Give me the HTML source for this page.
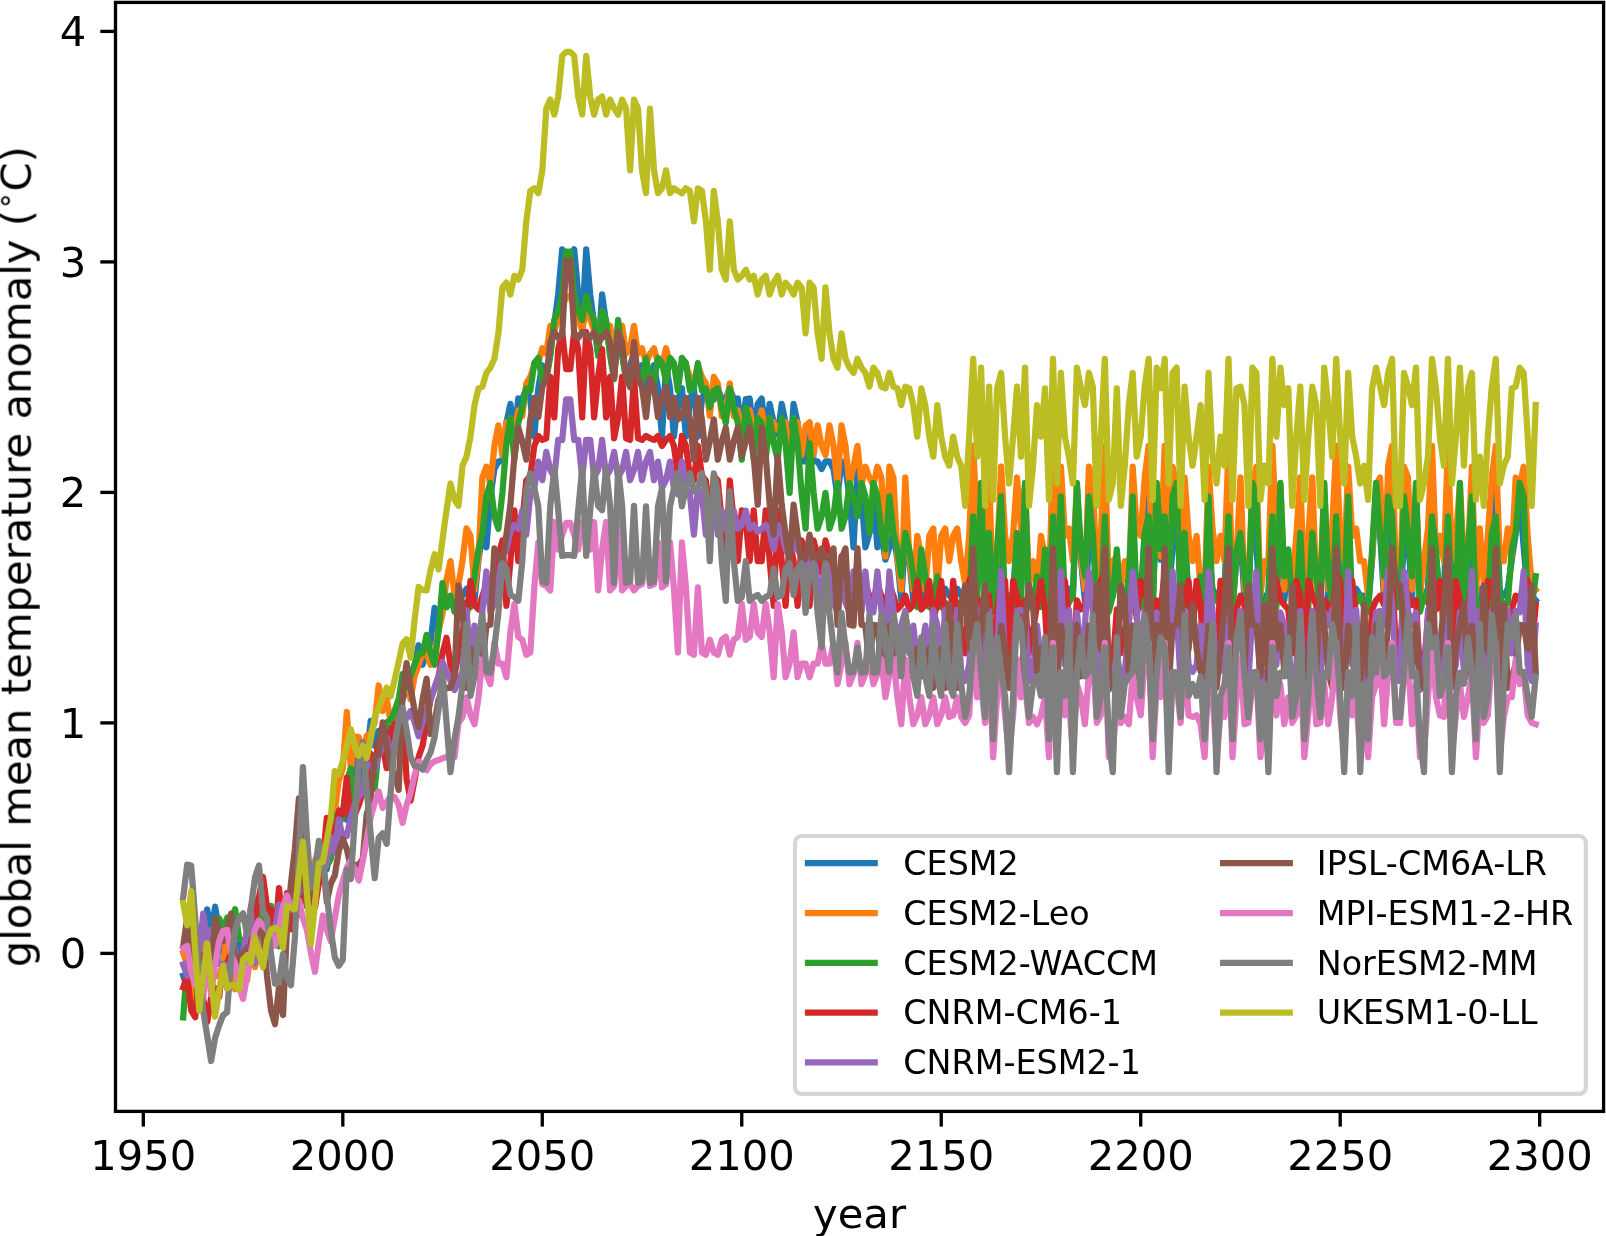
<!DOCTYPE html>
<html lang="en"><head><meta charset="utf-8"><title>global mean temperature anomaly</title>
<style>html,body{margin:0;padding:0;background:#fff}svg{display:block}text{font-family:"DejaVu Sans","Liberation Sans",sans-serif;fill:#000}</style></head><body>
<svg width="1606" height="1236" viewBox="0 0 1606 1236">
<rect width="1606" height="1236" fill="#fff"/>
<defs><clipPath id="ax"><rect x="115.5" y="2.4" width="1488.10" height="1109.00"/></clipPath></defs>
<g clip-path="url(#ax)" fill="none" stroke-width="6.25" stroke-linejoin="round" stroke-linecap="square">
<polyline stroke="#1f77b4" points="183.2,975.8 187.2,987.4 191.2,984.4 195.2,964.3 199.2,944.6 203.2,952.8 207.2,909.3 211.1,934.4 215.1,906.7 219.1,929.8 223.1,952.8 227.1,988.3 231.1,962.6 235.1,965.9 239.1,943.7 243.1,964.3 247.1,960.2 251.0,964.7 255.0,942.9 259.0,927.3 263.0,929.8 267.0,911.3 271.0,915.2 275.0,921.7 279.0,915.2 283.0,929.8 286.9,922.5 290.9,926.4 294.9,906.4 298.9,884.3 302.9,883.7 306.9,885.5 310.9,885.5 314.9,883.5 318.9,876.1 322.9,860.6 326.8,869.4 330.8,838.4 334.8,806.2 338.8,811.8 342.8,814.6 346.8,819.7 350.8,808.2 354.8,759.6 358.8,776.9 362.8,768.5 366.7,758.5 370.7,720.8 374.7,745.8 378.7,730.9 382.7,733.9 386.7,722.4 390.7,733.9 394.7,722.4 398.7,710.9 402.6,699.4 406.6,687.8 410.6,676.3 414.6,664.8 418.6,645.2 422.6,664.8 426.6,653.3 430.6,641.8 434.6,607.9 438.6,630.2 442.5,607.2 446.5,607.2 450.5,595.7 454.5,607.2 458.5,595.7 462.5,595.7 466.5,588.8 470.5,595.7 474.5,600.3 478.5,559.7 482.4,533.5 486.4,547.3 490.4,496.6 494.4,469.0 498.4,461.4 502.4,461.4 506.4,422.9 510.4,403.8 514.4,434.4 518.3,398.5 522.3,399.1 526.3,388.3 530.3,399.8 534.3,436.7 538.3,388.3 542.3,365.3 546.3,376.8 550.3,353.8 554.3,323.6 558.2,294.3 562.2,249.4 566.2,254.7 570.2,254.7 574.2,249.4 578.2,294.3 582.2,323.6 586.2,249.4 590.2,294.3 594.1,323.6 598.1,353.8 602.1,294.3 606.1,323.6 610.1,353.8 614.1,376.8 618.1,323.6 622.1,353.8 626.1,376.8 630.1,365.3 634.0,353.8 638.0,376.8 642.0,365.3 646.0,388.3 650.0,376.8 654.0,365.3 658.0,388.3 662.0,436.7 666.0,365.3 670.0,388.3 673.9,436.7 677.9,399.8 681.9,388.3 685.9,436.7 689.9,399.8 693.9,388.3 697.9,436.7 701.9,399.8 705.9,388.3 709.8,399.1 713.8,399.8 717.8,388.3 721.8,399.1 725.8,398.5 729.8,388.3 733.8,399.1 737.8,398.5 741.8,434.4 745.8,399.1 749.7,398.5 753.7,434.4 757.7,403.8 761.7,398.5 765.7,434.4 769.7,403.8 773.7,422.9 777.7,434.4 781.7,403.8 785.6,422.9 789.6,461.4 793.6,403.8 797.6,422.9 801.6,461.4 805.6,461.4 809.6,422.9 813.6,461.4 817.6,461.4 821.6,469.0 825.5,461.4 829.5,461.4 833.5,469.0 837.5,496.6 841.5,461.4 845.5,469.0 849.5,496.6 853.5,547.3 857.5,469.0 861.5,496.6 865.4,547.3 869.4,533.5 873.4,496.6 877.4,547.3 881.4,533.5 885.4,559.7 889.4,547.3 893.4,533.5 897.4,559.7 901.3,600.3 905.3,533.5 909.3,559.7 913.3,600.3 917.3,595.7 921.3,559.7 925.3,600.3 929.3,595.7 933.3,588.8 937.3,600.3 941.2,595.7 945.2,588.8 949.2,595.7 953.2,595.7 957.2,588.8 961.2,595.7 965.2,595.7 969.2,595.7 973.2,469.0 977.2,588.8 981.1,496.6 985.1,595.7 989.1,533.5 993.1,607.2 997.1,559.7 1001.1,547.3 1005.1,595.7 1009.1,595.7 1013.1,595.7 1017.0,533.5 1021.0,588.8 1025.0,496.6 1029.0,595.7 1033.0,595.7 1037.0,600.3 1041.0,595.7 1045.0,559.7 1049.0,607.2 1053.0,469.0 1056.9,595.7 1060.9,547.3 1064.9,595.7 1068.9,588.8 1072.9,595.7 1076.9,496.6 1080.9,559.7 1084.9,600.3 1088.9,547.3 1092.8,533.5 1096.8,595.7 1100.8,595.7 1104.8,469.0 1108.8,607.2 1112.8,595.7 1116.8,559.7 1120.8,595.7 1124.8,595.7 1128.8,600.3 1132.7,547.3 1136.7,588.8 1140.7,595.7 1144.7,533.5 1148.7,469.0 1152.7,607.2 1156.7,496.6 1160.7,559.7 1164.7,469.0 1168.7,595.7 1172.6,547.3 1176.6,496.6 1180.6,595.7 1184.6,533.5 1188.6,595.7 1192.6,595.7 1196.6,595.7 1200.6,600.3 1204.6,607.2 1208.5,547.3 1212.5,588.8 1216.5,595.7 1220.5,595.7 1224.5,595.7 1228.5,469.0 1232.5,607.2 1236.5,559.7 1240.5,533.5 1244.5,600.3 1248.4,595.7 1252.4,496.6 1256.4,547.3 1260.4,607.2 1264.4,595.7 1268.4,595.7 1272.4,469.0 1276.4,595.7 1280.4,496.6 1284.3,600.3 1288.3,559.7 1292.3,595.7 1296.3,595.7 1300.3,533.5 1304.3,607.2 1308.3,595.7 1312.3,533.5 1316.3,600.3 1320.3,595.7 1324.2,496.6 1328.2,600.3 1332.2,588.8 1336.2,469.0 1340.2,595.7 1344.2,595.7 1348.2,547.3 1352.2,595.7 1356.2,588.8 1360.2,595.7 1364.1,595.7 1368.1,607.2 1372.1,559.7 1376.1,496.6 1380.1,533.5 1384.1,600.3 1388.1,547.3 1392.1,469.0 1396.1,595.7 1400.0,595.7 1404.0,547.3 1408.0,533.5 1412.0,600.3 1416.0,496.6 1420.0,607.2 1424.0,595.7 1428.0,588.8 1432.0,469.0 1436.0,559.7 1439.9,595.7 1443.9,595.7 1447.9,469.0 1451.9,595.7 1455.9,595.7 1459.9,496.6 1463.9,595.7 1467.9,559.7 1471.9,547.3 1475.9,607.2 1479.8,588.8 1483.8,595.7 1487.8,595.7 1491.8,533.5 1495.8,469.0 1499.8,595.7 1503.8,595.7 1507.8,588.8 1511.8,559.7 1515.7,533.5 1519.7,496.6 1523.7,547.3 1527.7,595.7 1531.7,595.7 1535.7,600.3"/>
<polyline stroke="#ff7f0e" points="183.2,952.8 187.2,964.3 191.2,1004.5 195.2,975.8 199.2,979.4 203.2,925.2 207.2,952.8 211.1,975.8 215.1,975.6 219.1,976.1 223.1,964.3 227.1,929.7 231.1,968.3 235.1,989.3 239.1,964.8 243.1,975.8 247.1,980.4 251.0,948.8 255.0,967.2 259.0,942.3 263.0,929.8 267.0,930.0 271.0,921.0 275.0,938.8 279.0,926.0 283.0,918.2 286.9,921.6 290.9,923.6 294.9,920.4 298.9,893.1 302.9,883.7 306.9,840.8 310.9,909.1 314.9,861.1 318.9,850.1 322.9,849.1 326.8,831.8 330.8,830.7 334.8,810.0 338.8,780.5 342.8,768.5 346.8,712.0 350.8,768.5 354.8,736.7 358.8,737.1 362.8,757.0 366.7,735.6 370.7,733.1 374.7,722.4 378.7,685.5 382.7,710.9 386.7,699.4 390.7,722.4 394.7,710.9 398.7,699.4 402.6,687.8 406.6,676.3 410.6,699.4 414.6,676.3 418.6,664.8 422.6,653.3 426.6,653.3 430.6,664.8 434.6,653.3 438.6,630.2 442.5,614.1 446.5,579.6 450.5,561.1 454.5,595.7 458.5,584.2 462.5,561.1 466.5,528.4 470.5,535.8 474.5,589.7 478.5,556.7 482.4,477.5 486.4,466.7 490.4,485.1 494.4,445.9 498.4,425.4 502.4,455.1 506.4,422.4 510.4,425.2 514.4,429.8 518.3,410.4 522.3,416.0 526.3,383.3 530.3,376.8 534.3,365.3 538.3,363.0 542.3,348.2 546.3,353.8 550.3,325.9 554.3,330.7 558.2,319.2 562.2,307.7 566.2,296.2 570.2,296.2 574.2,307.7 578.2,319.2 582.2,330.7 586.2,307.7 590.2,319.2 594.1,330.7 598.1,325.9 602.1,319.2 606.1,330.7 610.1,325.9 614.1,353.8 618.1,330.7 622.1,325.9 626.1,353.8 630.1,348.2 634.0,325.9 638.0,353.8 642.0,348.2 646.0,363.0 650.0,353.8 654.0,348.2 658.0,363.0 662.0,365.3 666.0,348.2 670.0,363.0 673.9,365.3 677.9,376.8 681.9,363.0 685.9,365.3 689.9,376.8 693.9,383.3 697.9,365.3 701.9,376.8 705.9,383.3 709.8,416.0 713.8,376.8 717.8,383.3 721.8,416.0 725.8,410.4 729.8,383.3 733.8,416.0 737.8,410.4 741.8,429.8 745.8,416.0 749.7,410.4 753.7,429.8 757.7,425.2 761.7,410.4 765.7,429.8 769.7,425.2 773.7,422.4 777.7,429.8 781.7,425.2 785.6,422.4 789.6,455.1 793.6,425.2 797.6,422.4 801.6,455.1 805.6,425.4 809.6,422.4 813.6,455.1 817.6,425.4 821.6,445.9 825.5,455.1 829.5,425.4 833.5,445.9 837.5,485.1 841.5,425.4 845.5,445.9 849.5,485.1 853.5,466.7 857.5,445.9 861.5,485.1 865.4,466.7 869.4,477.5 873.4,485.1 877.4,466.7 881.4,477.5 885.4,556.7 889.4,466.7 893.4,477.5 897.4,556.7 901.3,589.7 905.3,477.5 909.3,556.7 913.3,589.7 917.3,535.8 921.3,556.7 925.3,589.7 929.3,535.8 933.3,528.4 937.3,589.7 941.2,535.8 945.2,528.4 949.2,561.1 953.2,535.8 957.2,528.4 961.2,561.1 965.2,584.2 969.2,535.8 973.2,445.9 977.2,528.4 981.1,485.1 985.1,584.2 989.1,477.5 993.1,595.7 997.1,556.7 1001.1,466.7 1005.1,535.8 1009.1,561.1 1013.1,535.8 1017.0,477.5 1021.0,528.4 1025.0,485.1 1029.0,584.2 1033.0,561.1 1037.0,589.7 1041.0,535.8 1045.0,556.7 1049.0,595.7 1053.0,445.9 1056.9,561.1 1060.9,466.7 1064.9,535.8 1068.9,528.4 1072.9,561.1 1076.9,485.1 1080.9,556.7 1084.9,589.7 1088.9,466.7 1092.8,477.5 1096.8,584.2 1100.8,535.8 1104.8,445.9 1108.8,595.7 1112.8,561.1 1116.8,556.7 1120.8,584.2 1124.8,561.1 1128.8,589.7 1132.7,466.7 1136.7,528.4 1140.7,535.8 1144.7,477.5 1148.7,445.9 1152.7,595.7 1156.7,485.1 1160.7,556.7 1164.7,445.9 1168.7,561.1 1172.6,466.7 1176.6,485.1 1180.6,584.2 1184.6,477.5 1188.6,535.8 1192.6,561.1 1196.6,535.8 1200.6,589.7 1204.6,595.7 1208.5,466.7 1212.5,528.4 1216.5,561.1 1220.5,535.8 1224.5,561.1 1228.5,445.9 1232.5,595.7 1236.5,556.7 1240.5,477.5 1244.5,589.7 1248.4,584.2 1252.4,485.1 1256.4,466.7 1260.4,595.7 1264.4,561.1 1268.4,561.1 1272.4,445.9 1276.4,535.8 1280.4,485.1 1284.3,589.7 1288.3,556.7 1292.3,584.2 1296.3,535.8 1300.3,477.5 1304.3,595.7 1308.3,535.8 1312.3,477.5 1316.3,589.7 1320.3,584.2 1324.2,485.1 1328.2,589.7 1332.2,528.4 1336.2,445.9 1340.2,535.8 1344.2,561.1 1348.2,466.7 1352.2,535.8 1356.2,528.4 1360.2,561.1 1364.1,561.1 1368.1,595.7 1372.1,556.7 1376.1,485.1 1380.1,477.5 1384.1,589.7 1388.1,466.7 1392.1,445.9 1396.1,584.2 1400.0,584.2 1404.0,466.7 1408.0,477.5 1412.0,589.7 1416.0,485.1 1420.0,595.7 1424.0,561.1 1428.0,528.4 1432.0,445.9 1436.0,556.7 1439.9,535.8 1443.9,561.1 1447.9,445.9 1451.9,561.1 1455.9,535.8 1459.9,485.1 1463.9,561.1 1467.9,556.7 1471.9,466.7 1475.9,595.7 1479.8,528.4 1483.8,584.2 1487.8,535.8 1491.8,477.5 1495.8,445.9 1499.8,561.1 1503.8,561.1 1507.8,528.4 1511.8,556.7 1515.7,477.5 1519.7,485.1 1523.7,466.7 1527.7,535.8 1531.7,584.2 1535.7,589.7"/>
<polyline stroke="#2ca02c" points="183.2,1017.3 187.2,964.3 191.2,975.8 195.2,952.8 199.2,964.3 203.2,975.8 207.2,975.8 211.1,966.8 215.1,938.1 219.1,918.2 223.1,929.8 227.1,917.8 231.1,920.2 235.1,909.1 239.1,938.2 243.1,941.3 247.1,941.4 251.0,948.9 255.0,899.5 259.0,906.7 263.0,929.8 267.0,933.1 271.0,905.8 275.0,925.9 279.0,946.3 283.0,929.8 286.9,910.5 290.9,913.9 294.9,914.5 298.9,896.6 302.9,883.7 306.9,847.2 310.9,894.5 314.9,880.0 318.9,878.2 322.9,860.6 326.8,866.3 330.8,858.7 334.8,814.9 338.8,825.9 342.8,814.6 346.8,781.1 350.8,768.5 354.8,800.4 358.8,785.8 362.8,780.0 366.7,784.9 370.7,761.1 374.7,788.6 378.7,747.5 382.7,733.9 386.7,722.4 390.7,720.1 394.7,710.9 398.7,699.4 402.6,674.0 406.6,687.8 410.6,676.3 414.6,664.8 418.6,653.3 422.6,653.3 426.6,634.8 430.6,653.3 434.6,664.8 438.6,630.2 442.5,583.2 446.5,607.2 450.5,595.9 454.5,611.8 458.5,607.2 462.5,607.2 466.5,602.6 470.5,607.2 474.5,576.3 478.5,549.4 482.4,533.0 486.4,496.4 490.4,482.8 494.4,516.4 498.4,528.7 502.4,492.8 506.4,443.4 510.4,417.9 514.4,459.7 518.3,422.9 522.3,407.4 526.3,388.3 530.3,390.6 534.3,363.0 538.3,357.9 542.3,381.4 546.3,379.1 550.3,355.8 554.3,319.9 558.2,310.9 562.2,295.9 566.2,251.7 570.2,251.7 574.2,295.9 578.2,310.9 582.2,319.9 586.2,295.9 590.2,310.9 594.1,319.9 598.1,355.8 602.1,310.9 606.1,319.9 610.1,355.8 614.1,379.1 618.1,319.9 622.1,355.8 626.1,379.1 630.1,381.4 634.0,355.8 638.0,379.1 642.0,381.4 646.0,357.9 650.0,379.1 654.0,381.4 658.0,357.9 662.0,363.0 666.0,381.4 670.0,357.9 673.9,363.0 677.9,390.6 681.9,357.9 685.9,363.0 689.9,390.6 693.9,388.3 697.9,363.0 701.9,390.6 705.9,388.3 709.8,407.4 713.8,390.6 717.8,388.3 721.8,407.4 725.8,422.9 729.8,388.3 733.8,407.4 737.8,422.9 741.8,459.7 745.8,407.4 749.7,422.9 753.7,459.7 757.7,417.9 761.7,422.9 765.7,459.7 769.7,417.9 773.7,443.4 777.7,459.7 781.7,417.9 785.6,443.4 789.6,492.8 793.6,417.9 797.6,443.4 801.6,492.8 805.6,528.7 809.6,443.4 813.6,492.8 817.6,528.7 821.6,516.4 825.5,492.8 829.5,528.7 833.5,516.4 837.5,482.8 841.5,528.7 845.5,516.4 849.5,482.8 853.5,496.4 857.5,516.4 861.5,482.8 865.4,496.4 869.4,533.0 873.4,482.8 877.4,496.4 881.4,533.0 885.4,549.4 889.4,496.4 893.4,533.0 897.4,549.4 901.3,576.3 905.3,533.0 909.3,549.4 913.3,576.3 917.3,607.2 921.3,549.4 925.3,576.3 929.3,607.2 933.3,602.6 937.3,576.3 941.2,607.2 945.2,602.6 949.2,607.2 953.2,607.2 957.2,602.6 961.2,607.2 965.2,607.2 969.2,607.2 973.2,516.4 977.2,602.6 981.1,482.8 985.1,607.2 989.1,533.0 993.1,611.8 997.1,549.4 1001.1,496.4 1005.1,607.2 1009.1,595.9 1013.1,607.2 1017.0,533.0 1021.0,602.6 1025.0,482.8 1029.0,607.2 1033.0,607.2 1037.0,576.3 1041.0,607.2 1045.0,549.4 1049.0,611.8 1053.0,516.4 1056.9,595.9 1060.9,496.4 1064.9,607.2 1068.9,602.6 1072.9,595.9 1076.9,482.8 1080.9,549.4 1084.9,576.3 1088.9,496.4 1092.8,533.0 1096.8,607.2 1100.8,607.2 1104.8,516.4 1108.8,611.8 1112.8,595.9 1116.8,549.4 1120.8,607.2 1124.8,607.2 1128.8,576.3 1132.7,496.4 1136.7,602.6 1140.7,607.2 1144.7,533.0 1148.7,516.4 1152.7,611.8 1156.7,482.8 1160.7,549.4 1164.7,516.4 1168.7,595.9 1172.6,496.4 1176.6,482.8 1180.6,607.2 1184.6,533.0 1188.6,607.2 1192.6,607.2 1196.6,607.2 1200.6,576.3 1204.6,611.8 1208.5,496.4 1212.5,602.6 1216.5,595.9 1220.5,607.2 1224.5,607.2 1228.5,516.4 1232.5,611.8 1236.5,549.4 1240.5,533.0 1244.5,576.3 1248.4,607.2 1252.4,482.8 1256.4,496.4 1260.4,611.8 1264.4,607.2 1268.4,595.9 1272.4,516.4 1276.4,607.2 1280.4,482.8 1284.3,576.3 1288.3,549.4 1292.3,607.2 1296.3,607.2 1300.3,533.0 1304.3,611.8 1308.3,607.2 1312.3,533.0 1316.3,576.3 1320.3,607.2 1324.2,482.8 1328.2,576.3 1332.2,602.6 1336.2,516.4 1340.2,607.2 1344.2,595.9 1348.2,496.4 1352.2,607.2 1356.2,602.6 1360.2,595.9 1364.1,607.2 1368.1,611.8 1372.1,549.4 1376.1,482.8 1380.1,533.0 1384.1,576.3 1388.1,496.4 1392.1,516.4 1396.1,607.2 1400.0,607.2 1404.0,496.4 1408.0,533.0 1412.0,576.3 1416.0,482.8 1420.0,611.8 1424.0,595.9 1428.0,602.6 1432.0,516.4 1436.0,549.4 1439.9,607.2 1443.9,607.2 1447.9,516.4 1451.9,595.9 1455.9,607.2 1459.9,482.8 1463.9,607.2 1467.9,549.4 1471.9,496.4 1475.9,611.8 1479.8,602.6 1483.8,607.2 1487.8,607.2 1491.8,533.0 1495.8,516.4 1499.8,595.9 1503.8,607.2 1507.8,602.6 1511.8,549.4 1515.7,533.0 1519.7,482.8 1523.7,496.4 1527.7,607.2 1531.7,607.2 1535.7,576.3"/>
<polyline stroke="#d62728" points="183.2,987.4 187.2,975.8 191.2,1010.4 195.2,1017.3 199.2,975.8 203.2,998.9 207.2,1021.9 211.1,997.9 215.1,987.8 219.1,997.2 223.1,964.3 227.1,963.4 231.1,952.9 235.1,952.0 239.1,973.8 243.1,952.8 247.1,939.5 251.0,906.7 255.0,918.2 259.0,896.8 263.0,876.8 267.0,906.7 271.0,909.9 275.0,937.7 279.0,888.1 283.0,929.8 286.9,893.2 290.9,929.3 294.9,875.7 298.9,914.8 302.9,883.7 306.9,870.3 310.9,873.7 314.9,907.9 318.9,883.1 322.9,860.6 326.8,817.8 330.8,827.5 334.8,837.4 338.8,810.9 342.8,814.6 346.8,777.7 350.8,826.1 354.8,814.7 358.8,805.1 362.8,791.5 366.7,787.2 370.7,753.7 374.7,767.0 378.7,741.2 382.7,745.4 386.7,768.2 390.7,731.0 394.7,724.1 398.7,730.4 402.6,710.9 406.6,779.3 410.6,800.7 414.6,780.0 418.6,757.0 422.6,745.4 426.6,722.4 430.6,699.4 434.6,687.8 438.6,676.3 442.5,653.3 446.5,637.8 450.5,664.8 454.5,675.2 458.5,653.3 462.5,630.2 466.5,618.7 470.5,580.9 474.5,604.9 478.5,609.5 482.4,595.7 486.4,584.2 490.4,600.3 494.4,572.6 498.4,556.5 502.4,540.4 506.4,605.8 510.4,561.1 514.4,510.4 518.3,561.1 522.3,522.0 526.3,480.5 530.3,475.9 534.3,445.9 538.3,436.0 542.3,439.9 546.3,438.3 550.3,376.8 554.3,417.4 558.2,349.2 562.2,331.9 566.2,369.2 570.2,369.2 574.2,331.9 578.2,349.2 582.2,417.4 586.2,331.9 590.2,349.2 594.1,417.4 598.1,376.8 602.1,349.2 606.1,417.4 610.1,376.8 614.1,438.3 618.1,417.4 622.1,376.8 626.1,438.3 630.1,439.9 634.0,376.8 638.0,438.3 642.0,439.9 646.0,436.0 650.0,438.3 654.0,439.9 658.0,436.0 662.0,445.9 666.0,439.9 670.0,436.0 673.9,445.9 677.9,475.9 681.9,436.0 685.9,445.9 689.9,475.9 693.9,480.5 697.9,445.9 701.9,475.9 705.9,480.5 709.8,522.0 713.8,475.9 717.8,480.5 721.8,522.0 725.8,561.1 729.8,480.5 733.8,522.0 737.8,561.1 741.8,510.4 745.8,522.0 749.7,561.1 753.7,510.4 757.7,561.1 761.7,561.1 765.7,510.4 769.7,561.1 773.7,605.8 777.7,510.4 781.7,561.1 785.6,605.8 789.6,540.4 793.6,561.1 797.6,605.8 801.6,540.4 805.6,556.5 809.6,605.8 813.6,540.4 817.6,556.5 821.6,572.6 825.5,540.4 829.5,556.5 833.5,572.6 837.5,600.3 841.5,556.5 845.5,572.6 849.5,600.3 853.5,584.2 857.5,572.6 861.5,600.3 865.4,584.2 869.4,595.7 873.4,600.3 877.4,584.2 881.4,595.7 885.4,609.5 889.4,584.2 893.4,595.7 897.4,609.5 901.3,604.9 905.3,595.7 909.3,609.5 913.3,604.9 917.3,580.9 921.3,609.5 925.3,604.9 929.3,580.9 933.3,618.7 937.3,604.9 941.2,580.9 945.2,618.7 949.2,630.2 953.2,580.9 957.2,618.7 961.2,630.2 965.2,653.3 969.2,580.9 973.2,572.6 977.2,618.7 981.1,600.3 985.1,653.3 989.1,595.7 993.1,675.2 997.1,609.5 1001.1,584.2 1005.1,580.9 1009.1,664.8 1013.1,580.9 1017.0,595.7 1021.0,618.7 1025.0,600.3 1029.0,653.3 1033.0,630.2 1037.0,604.9 1041.0,580.9 1045.0,609.5 1049.0,675.2 1053.0,572.6 1056.9,664.8 1060.9,584.2 1064.9,580.9 1068.9,618.7 1072.9,664.8 1076.9,600.3 1080.9,609.5 1084.9,604.9 1088.9,584.2 1092.8,595.7 1096.8,653.3 1100.8,580.9 1104.8,572.6 1108.8,675.2 1112.8,664.8 1116.8,609.5 1120.8,653.3 1124.8,630.2 1128.8,604.9 1132.7,584.2 1136.7,618.7 1140.7,580.9 1144.7,595.7 1148.7,572.6 1152.7,675.2 1156.7,600.3 1160.7,609.5 1164.7,572.6 1168.7,664.8 1172.6,584.2 1176.6,600.3 1180.6,653.3 1184.6,595.7 1188.6,580.9 1192.6,630.2 1196.6,580.9 1200.6,604.9 1204.6,675.2 1208.5,584.2 1212.5,618.7 1216.5,664.8 1220.5,580.9 1224.5,630.2 1228.5,572.6 1232.5,675.2 1236.5,609.5 1240.5,595.7 1244.5,604.9 1248.4,653.3 1252.4,600.3 1256.4,584.2 1260.4,675.2 1264.4,630.2 1268.4,664.8 1272.4,572.6 1276.4,580.9 1280.4,600.3 1284.3,604.9 1288.3,609.5 1292.3,653.3 1296.3,580.9 1300.3,595.7 1304.3,675.2 1308.3,580.9 1312.3,595.7 1316.3,604.9 1320.3,653.3 1324.2,600.3 1328.2,604.9 1332.2,618.7 1336.2,572.6 1340.2,580.9 1344.2,664.8 1348.2,584.2 1352.2,580.9 1356.2,618.7 1360.2,664.8 1364.1,630.2 1368.1,675.2 1372.1,609.5 1376.1,600.3 1380.1,595.7 1384.1,604.9 1388.1,584.2 1392.1,572.6 1396.1,653.3 1400.0,653.3 1404.0,584.2 1408.0,595.7 1412.0,604.9 1416.0,600.3 1420.0,675.2 1424.0,664.8 1428.0,618.7 1432.0,572.6 1436.0,609.5 1439.9,580.9 1443.9,630.2 1447.9,572.6 1451.9,664.8 1455.9,580.9 1459.9,600.3 1463.9,630.2 1467.9,609.5 1471.9,584.2 1475.9,675.2 1479.8,618.7 1483.8,653.3 1487.8,580.9 1491.8,595.7 1495.8,572.6 1499.8,664.8 1503.8,630.2 1507.8,618.7 1511.8,609.5 1515.7,595.7 1519.7,600.3 1523.7,584.2 1527.7,580.9 1531.7,653.3 1535.7,604.9"/>
<polyline stroke="#9467bd" points="183.2,964.3 187.2,975.8 191.2,938.9 195.2,980.4 199.2,952.8 203.2,913.6 207.2,941.3 211.1,929.8 215.1,952.8 219.1,963.9 223.1,964.3 227.1,965.3 231.1,965.5 235.1,947.7 239.1,982.0 243.1,952.8 247.1,929.6 251.0,913.6 255.0,963.3 259.0,924.0 263.0,929.8 267.0,941.3 271.0,939.2 275.0,929.7 279.0,904.5 283.0,918.2 286.9,910.4 290.9,910.3 294.9,897.5 298.9,892.3 302.9,883.7 306.9,891.6 310.9,879.2 314.9,878.4 318.9,875.3 322.9,872.2 326.8,862.1 330.8,836.8 334.8,852.8 338.8,819.3 342.8,837.6 346.8,836.1 350.8,817.5 354.8,804.2 358.8,796.4 362.8,791.5 366.7,763.9 370.7,765.1 374.7,769.3 378.7,756.3 382.7,745.4 386.7,737.3 390.7,757.4 394.7,742.7 398.7,736.3 402.6,722.4 406.6,718.4 410.6,710.9 414.6,722.4 418.6,736.2 422.6,722.4 426.6,710.9 430.6,699.4 434.6,687.8 438.6,676.3 442.5,661.8 446.5,671.7 450.5,680.9 454.5,690.1 458.5,680.9 462.5,671.7 466.5,610.0 470.5,664.8 474.5,625.6 478.5,653.3 482.4,610.9 486.4,571.5 490.4,612.3 494.4,602.6 498.4,579.6 502.4,556.5 506.4,549.6 510.4,531.7 514.4,524.9 518.3,528.7 522.3,510.7 526.3,534.7 530.3,494.3 534.3,487.9 538.3,461.6 542.3,480.2 546.3,451.9 550.3,469.9 554.3,477.3 558.2,439.9 562.2,439.9 566.2,399.4 570.2,399.4 574.2,439.9 578.2,439.9 582.2,477.3 586.2,439.9 590.2,439.9 594.1,477.3 598.1,469.9 602.1,439.9 606.1,477.3 610.1,469.9 614.1,451.9 618.1,477.3 622.1,469.9 626.1,451.9 630.1,480.2 634.0,469.9 638.0,451.9 642.0,480.2 646.0,461.6 650.0,451.9 654.0,480.2 658.0,461.6 662.0,487.9 666.0,480.2 670.0,461.6 673.9,487.9 677.9,494.3 681.9,461.6 685.9,487.9 689.9,494.3 693.9,534.7 697.9,487.9 701.9,494.3 705.9,534.7 709.8,510.7 713.8,494.3 717.8,534.7 721.8,510.7 725.8,528.7 729.8,534.7 733.8,510.7 737.8,528.7 741.8,524.9 745.8,510.7 749.7,528.7 753.7,524.9 757.7,531.7 761.7,528.7 765.7,524.9 769.7,531.7 773.7,549.6 777.7,524.9 781.7,531.7 785.6,549.6 789.6,556.5 793.6,531.7 797.6,549.6 801.6,556.5 805.6,579.6 809.6,549.6 813.6,556.5 817.6,579.6 821.6,602.6 825.5,556.5 829.5,579.6 833.5,602.6 837.5,612.3 841.5,579.6 845.5,602.6 849.5,612.3 853.5,571.5 857.5,602.6 861.5,612.3 865.4,571.5 869.4,610.9 873.4,612.3 877.4,571.5 881.4,610.9 885.4,653.3 889.4,571.5 893.4,610.9 897.4,653.3 901.3,625.6 905.3,610.9 909.3,653.3 913.3,625.6 917.3,664.8 921.3,653.3 925.3,625.6 929.3,664.8 933.3,610.0 937.3,625.6 941.2,664.8 945.2,610.0 949.2,671.7 953.2,664.8 957.2,610.0 961.2,671.7 965.2,680.9 969.2,664.8 973.2,602.6 977.2,610.0 981.1,612.3 985.1,680.9 989.1,610.9 993.1,690.1 997.1,653.3 1001.1,571.5 1005.1,664.8 1009.1,680.9 1013.1,664.8 1017.0,610.9 1021.0,610.0 1025.0,612.3 1029.0,680.9 1033.0,671.7 1037.0,625.6 1041.0,664.8 1045.0,653.3 1049.0,690.1 1053.0,602.6 1056.9,680.9 1060.9,571.5 1064.9,664.8 1068.9,610.0 1072.9,680.9 1076.9,612.3 1080.9,653.3 1084.9,625.6 1088.9,571.5 1092.8,610.9 1096.8,680.9 1100.8,664.8 1104.8,602.6 1108.8,690.1 1112.8,680.9 1116.8,653.3 1120.8,680.9 1124.8,671.7 1128.8,625.6 1132.7,571.5 1136.7,610.0 1140.7,664.8 1144.7,610.9 1148.7,602.6 1152.7,690.1 1156.7,612.3 1160.7,653.3 1164.7,602.6 1168.7,680.9 1172.6,571.5 1176.6,612.3 1180.6,680.9 1184.6,610.9 1188.6,664.8 1192.6,671.7 1196.6,664.8 1200.6,625.6 1204.6,690.1 1208.5,571.5 1212.5,610.0 1216.5,680.9 1220.5,664.8 1224.5,671.7 1228.5,602.6 1232.5,690.1 1236.5,653.3 1240.5,610.9 1244.5,625.6 1248.4,680.9 1252.4,612.3 1256.4,571.5 1260.4,690.1 1264.4,671.7 1268.4,680.9 1272.4,602.6 1276.4,664.8 1280.4,612.3 1284.3,625.6 1288.3,653.3 1292.3,680.9 1296.3,664.8 1300.3,610.9 1304.3,690.1 1308.3,664.8 1312.3,610.9 1316.3,625.6 1320.3,680.9 1324.2,612.3 1328.2,625.6 1332.2,610.0 1336.2,602.6 1340.2,664.8 1344.2,680.9 1348.2,571.5 1352.2,664.8 1356.2,610.0 1360.2,680.9 1364.1,671.7 1368.1,690.1 1372.1,653.3 1376.1,612.3 1380.1,610.9 1384.1,625.6 1388.1,571.5 1392.1,602.6 1396.1,680.9 1400.0,680.9 1404.0,571.5 1408.0,610.9 1412.0,625.6 1416.0,612.3 1420.0,690.1 1424.0,680.9 1428.0,610.0 1432.0,602.6 1436.0,653.3 1439.9,664.8 1443.9,671.7 1447.9,602.6 1451.9,680.9 1455.9,664.8 1459.9,612.3 1463.9,671.7 1467.9,653.3 1471.9,571.5 1475.9,690.1 1479.8,610.0 1483.8,680.9 1487.8,664.8 1491.8,610.9 1495.8,602.6 1499.8,680.9 1503.8,671.7 1507.8,610.0 1511.8,653.3 1515.7,610.9 1519.7,612.3 1523.7,571.5 1527.7,664.8 1531.7,680.9 1535.7,625.6"/>
<polyline stroke="#8c564b" points="183.2,945.9 187.2,918.2 191.2,964.3 195.2,975.8 199.2,1006.4 203.2,955.5 207.2,964.3 211.1,973.7 215.1,918.6 219.1,929.8 223.1,941.3 227.1,929.8 231.1,913.6 235.1,964.3 239.1,957.0 243.1,952.8 247.1,947.9 251.0,947.3 255.0,941.3 259.0,924.3 263.0,929.8 267.0,975.8 271.0,1010.4 275.0,1024.2 279.0,987.4 283.0,1015.0 286.9,929.8 290.9,883.7 294.9,849.1 298.9,798.4 302.9,872.2 306.9,906.7 310.9,883.3 314.9,883.7 318.9,870.6 322.9,860.6 326.8,901.6 330.8,883.7 334.8,875.3 338.8,850.8 342.8,839.2 346.8,849.1 350.8,867.7 354.8,864.8 358.8,864.8 362.8,858.6 366.7,814.6 370.7,797.6 374.7,757.0 378.7,754.0 382.7,722.4 386.7,745.4 390.7,768.5 394.7,773.7 398.7,789.9 402.6,694.2 406.6,663.2 410.6,687.8 414.6,710.9 418.6,727.0 422.6,699.4 426.6,678.6 430.6,733.9 434.6,722.4 438.6,699.4 442.5,692.4 446.5,687.8 450.5,687.8 454.5,676.3 458.5,585.3 462.5,604.7 466.5,687.8 470.5,648.7 474.5,671.7 478.5,676.3 482.4,664.8 486.4,625.6 490.4,624.8 494.4,548.4 498.4,558.8 502.4,561.8 506.4,534.6 510.4,504.7 514.4,456.1 518.3,427.7 522.3,441.3 526.3,459.7 530.3,419.4 534.3,397.8 538.3,417.1 542.3,387.2 546.3,378.2 550.3,342.2 554.3,331.9 558.2,337.9 562.2,334.9 566.2,260.7 570.2,260.7 574.2,334.9 578.2,337.9 582.2,331.9 586.2,334.9 590.2,337.9 594.1,331.9 598.1,342.2 602.1,337.9 606.1,331.9 610.1,342.2 614.1,378.2 618.1,331.9 622.1,342.2 626.1,378.2 630.1,387.2 634.0,342.2 638.0,378.2 642.0,387.2 646.0,417.1 650.0,378.2 654.0,387.2 658.0,417.1 662.0,397.8 666.0,387.2 670.0,417.1 673.9,397.8 677.9,419.4 681.9,417.1 685.9,397.8 689.9,419.4 693.9,459.7 697.9,397.8 701.9,419.4 705.9,459.7 709.8,441.3 713.8,419.4 717.8,459.7 721.8,441.3 725.8,427.7 729.8,459.7 733.8,441.3 737.8,427.7 741.8,456.1 745.8,441.3 749.7,427.7 753.7,456.1 757.7,504.7 761.7,427.7 765.7,456.1 769.7,504.7 773.7,534.6 777.7,456.1 781.7,504.7 785.6,534.6 789.6,561.8 793.6,504.7 797.6,534.6 801.6,561.8 805.6,558.8 809.6,534.6 813.6,561.8 817.6,558.8 821.6,548.4 825.5,561.8 829.5,558.8 833.5,548.4 837.5,624.8 841.5,558.8 845.5,548.4 849.5,624.8 853.5,625.6 857.5,548.4 861.5,624.8 865.4,625.6 869.4,664.8 873.4,624.8 877.4,625.6 881.4,664.8 885.4,676.3 889.4,625.6 893.4,664.8 897.4,676.3 901.3,671.7 905.3,664.8 909.3,676.3 913.3,671.7 917.3,648.7 921.3,676.3 925.3,671.7 929.3,648.7 933.3,687.8 937.3,671.7 941.2,648.7 945.2,687.8 949.2,604.7 953.2,648.7 957.2,687.8 961.2,604.7 965.2,585.3 969.2,648.7 973.2,548.4 977.2,687.8 981.1,624.8 985.1,585.3 989.1,664.8 993.1,676.3 997.1,676.3 1001.1,625.6 1005.1,648.7 1009.1,687.8 1013.1,648.7 1017.0,664.8 1021.0,687.8 1025.0,624.8 1029.0,585.3 1033.0,604.7 1037.0,671.7 1041.0,648.7 1045.0,676.3 1049.0,676.3 1053.0,548.4 1056.9,687.8 1060.9,625.6 1064.9,648.7 1068.9,687.8 1072.9,687.8 1076.9,624.8 1080.9,676.3 1084.9,671.7 1088.9,625.6 1092.8,664.8 1096.8,585.3 1100.8,648.7 1104.8,548.4 1108.8,676.3 1112.8,687.8 1116.8,676.3 1120.8,585.3 1124.8,604.7 1128.8,671.7 1132.7,625.6 1136.7,687.8 1140.7,648.7 1144.7,664.8 1148.7,548.4 1152.7,676.3 1156.7,624.8 1160.7,676.3 1164.7,548.4 1168.7,687.8 1172.6,625.6 1176.6,624.8 1180.6,585.3 1184.6,664.8 1188.6,648.7 1192.6,604.7 1196.6,648.7 1200.6,671.7 1204.6,676.3 1208.5,625.6 1212.5,687.8 1216.5,687.8 1220.5,648.7 1224.5,604.7 1228.5,548.4 1232.5,676.3 1236.5,676.3 1240.5,664.8 1244.5,671.7 1248.4,585.3 1252.4,624.8 1256.4,625.6 1260.4,676.3 1264.4,604.7 1268.4,687.8 1272.4,548.4 1276.4,648.7 1280.4,624.8 1284.3,671.7 1288.3,676.3 1292.3,585.3 1296.3,648.7 1300.3,664.8 1304.3,676.3 1308.3,648.7 1312.3,664.8 1316.3,671.7 1320.3,585.3 1324.2,624.8 1328.2,671.7 1332.2,687.8 1336.2,548.4 1340.2,648.7 1344.2,687.8 1348.2,625.6 1352.2,648.7 1356.2,687.8 1360.2,687.8 1364.1,604.7 1368.1,676.3 1372.1,676.3 1376.1,624.8 1380.1,664.8 1384.1,671.7 1388.1,625.6 1392.1,548.4 1396.1,585.3 1400.0,585.3 1404.0,625.6 1408.0,664.8 1412.0,671.7 1416.0,624.8 1420.0,676.3 1424.0,687.8 1428.0,687.8 1432.0,548.4 1436.0,676.3 1439.9,648.7 1443.9,604.7 1447.9,548.4 1451.9,687.8 1455.9,648.7 1459.9,624.8 1463.9,604.7 1467.9,676.3 1471.9,625.6 1475.9,676.3 1479.8,687.8 1483.8,585.3 1487.8,648.7 1491.8,664.8 1495.8,548.4 1499.8,687.8 1503.8,604.7 1507.8,687.8 1511.8,676.3 1515.7,664.8 1519.7,624.8 1523.7,625.6 1527.7,648.7 1531.7,585.3 1535.7,671.7"/>
<polyline stroke="#e377c2" points="183.2,948.2 187.2,945.9 191.2,971.2 195.2,985.1 199.2,975.8 203.2,998.9 207.2,952.8 211.1,994.3 215.1,964.3 219.1,941.3 223.1,930.7 227.1,929.8 231.1,952.8 235.1,964.3 239.1,987.4 243.1,998.9 247.1,975.8 251.0,952.8 255.0,929.8 259.0,920.5 263.0,925.2 267.0,929.8 271.0,934.4 275.0,945.9 279.0,929.8 283.0,906.7 286.9,895.4 290.9,906.7 294.9,911.3 298.9,900.5 302.9,918.2 306.9,929.8 310.9,952.8 314.9,971.9 318.9,941.3 322.9,915.5 326.8,929.8 330.8,941.3 334.8,918.2 338.8,895.2 342.8,881.4 346.8,867.6 350.8,860.6 354.8,869.9 358.8,880.5 362.8,860.6 366.7,839.9 370.7,816.9 374.7,803.0 378.7,791.5 382.7,807.9 386.7,801.9 390.7,795.9 394.7,797.3 398.7,804.9 402.6,822.9 406.6,804.9 410.6,792.9 414.6,774.9 418.6,761.6 422.6,764.3 426.6,770.3 430.6,764.3 434.6,761.3 438.6,760.0 442.5,758.3 446.5,757.0 450.5,754.0 454.5,757.2 458.5,722.9 462.5,716.9 466.5,697.3 470.5,715.3 474.5,724.2 478.5,697.1 482.4,659.3 486.4,674.0 490.4,684.2 494.4,642.9 498.4,663.7 502.4,663.7 506.4,677.2 510.4,632.3 514.4,603.8 518.3,636.8 522.3,639.8 526.3,654.7 530.3,652.5 534.3,587.4 538.3,542.5 542.3,584.2 546.3,585.9 550.3,590.4 554.3,522.0 558.2,549.6 562.2,535.0 566.2,522.9 570.2,522.9 574.2,535.0 578.2,549.6 582.2,522.0 586.2,535.0 590.2,549.6 594.1,522.0 598.1,590.4 602.1,549.6 606.1,522.0 610.1,590.4 614.1,585.9 618.1,522.0 622.1,590.4 626.1,585.9 630.1,584.2 634.0,590.4 638.0,585.9 642.0,584.2 646.0,542.5 650.0,585.9 654.0,584.2 658.0,542.5 662.0,587.4 666.0,584.2 670.0,542.5 673.9,587.4 677.9,652.5 681.9,542.5 685.9,587.4 689.9,652.5 693.9,654.7 697.9,587.4 701.9,652.5 705.9,654.7 709.8,639.8 713.8,652.5 717.8,654.7 721.8,639.8 725.8,636.8 729.8,654.7 733.8,639.8 737.8,636.8 741.8,603.8 745.8,639.8 749.7,636.8 753.7,603.8 757.7,632.3 761.7,636.8 765.7,603.8 769.7,632.3 773.7,677.2 777.7,603.8 781.7,632.3 785.6,677.2 789.6,663.7 793.6,632.3 797.6,677.2 801.6,663.7 805.6,663.7 809.6,677.2 813.6,663.7 817.6,663.7 821.6,642.9 825.5,663.7 829.5,663.7 833.5,642.9 837.5,684.2 841.5,663.7 845.5,642.9 849.5,684.2 853.5,674.0 857.5,642.9 861.5,684.2 865.4,674.0 869.4,659.3 873.4,684.2 877.4,674.0 881.4,659.3 885.4,697.1 889.4,674.0 893.4,659.3 897.4,697.1 901.3,724.2 905.3,659.3 909.3,697.1 913.3,724.2 917.3,715.3 921.3,697.1 925.3,724.2 929.3,715.3 933.3,697.3 937.3,724.2 941.2,715.3 945.2,697.3 949.2,716.9 953.2,715.3 957.2,697.3 961.2,716.9 965.2,722.9 969.2,715.3 973.2,642.9 977.2,697.3 981.1,684.2 985.1,722.9 989.1,659.3 993.1,757.2 997.1,697.1 1001.1,674.0 1005.1,715.3 1009.1,754.0 1013.1,715.3 1017.0,659.3 1021.0,697.3 1025.0,684.2 1029.0,722.9 1033.0,716.9 1037.0,724.2 1041.0,715.3 1045.0,697.1 1049.0,757.2 1053.0,642.9 1056.9,754.0 1060.9,674.0 1064.9,715.3 1068.9,697.3 1072.9,754.0 1076.9,684.2 1080.9,697.1 1084.9,724.2 1088.9,674.0 1092.8,659.3 1096.8,722.9 1100.8,715.3 1104.8,642.9 1108.8,757.2 1112.8,754.0 1116.8,697.1 1120.8,722.9 1124.8,716.9 1128.8,724.2 1132.7,674.0 1136.7,697.3 1140.7,715.3 1144.7,659.3 1148.7,642.9 1152.7,757.2 1156.7,684.2 1160.7,697.1 1164.7,642.9 1168.7,754.0 1172.6,674.0 1176.6,684.2 1180.6,722.9 1184.6,659.3 1188.6,715.3 1192.6,716.9 1196.6,715.3 1200.6,724.2 1204.6,757.2 1208.5,674.0 1212.5,697.3 1216.5,754.0 1220.5,715.3 1224.5,716.9 1228.5,642.9 1232.5,757.2 1236.5,697.1 1240.5,659.3 1244.5,724.2 1248.4,722.9 1252.4,684.2 1256.4,674.0 1260.4,757.2 1264.4,716.9 1268.4,754.0 1272.4,642.9 1276.4,715.3 1280.4,684.2 1284.3,724.2 1288.3,697.1 1292.3,722.9 1296.3,715.3 1300.3,659.3 1304.3,757.2 1308.3,715.3 1312.3,659.3 1316.3,724.2 1320.3,722.9 1324.2,684.2 1328.2,724.2 1332.2,697.3 1336.2,642.9 1340.2,715.3 1344.2,754.0 1348.2,674.0 1352.2,715.3 1356.2,697.3 1360.2,754.0 1364.1,716.9 1368.1,757.2 1372.1,697.1 1376.1,684.2 1380.1,659.3 1384.1,724.2 1388.1,674.0 1392.1,642.9 1396.1,722.9 1400.0,722.9 1404.0,674.0 1408.0,659.3 1412.0,724.2 1416.0,684.2 1420.0,757.2 1424.0,754.0 1428.0,697.3 1432.0,642.9 1436.0,697.1 1439.9,715.3 1443.9,716.9 1447.9,642.9 1451.9,754.0 1455.9,715.3 1459.9,684.2 1463.9,716.9 1467.9,697.1 1471.9,674.0 1475.9,757.2 1479.8,697.3 1483.8,722.9 1487.8,715.3 1491.8,659.3 1495.8,642.9 1499.8,754.0 1503.8,716.9 1507.8,697.3 1511.8,697.1 1515.7,659.3 1519.7,684.2 1523.7,674.0 1527.7,715.3 1531.7,722.9 1535.7,724.2"/>
<polyline stroke="#7f7f7f" points="183.2,897.5 187.2,864.6 191.2,865.5 195.2,918.2 199.2,975.8 203.2,1010.4 207.2,1035.7 211.1,1060.9 215.1,1038.0 219.1,1025.6 223.1,1015.2 227.1,1012.2 231.1,959.7 235.1,929.8 239.1,918.0 243.1,913.4 247.1,934.4 251.0,907.4 255.0,877.5 259.0,865.5 263.0,912.0 267.0,918.0 271.0,954.0 275.0,983.7 279.0,982.3 283.0,954.0 286.9,977.7 290.9,985.3 294.9,937.4 298.9,856.0 302.9,767.1 306.9,837.6 310.9,888.3 314.9,869.9 318.9,840.8 322.9,858.3 326.8,895.2 330.8,929.8 334.8,957.4 338.8,965.8 342.8,959.7 346.8,869.9 350.8,879.1 354.8,819.9 358.8,760.0 362.8,742.0 366.7,789.9 370.7,834.8 374.7,878.2 378.7,837.8 382.7,833.2 386.7,843.8 390.7,791.5 394.7,745.4 398.7,720.1 402.6,707.4 406.6,730.0 410.6,757.0 414.6,765.9 418.6,766.6 422.6,769.6 426.6,760.0 430.6,752.4 434.6,737.4 438.6,708.6 442.5,671.7 446.5,722.4 450.5,772.2 454.5,739.2 458.5,716.9 462.5,683.9 466.5,624.0 470.5,695.9 474.5,676.3 478.5,637.4 482.4,615.0 486.4,671.9 490.4,672.6 494.4,647.3 498.4,612.8 502.4,563.4 506.4,568.7 510.4,594.9 514.4,597.1 518.3,600.8 522.3,561.1 526.3,491.3 530.3,473.3 534.3,488.3 538.3,506.3 542.3,581.4 546.3,582.9 550.3,505.8 554.3,468.3 558.2,510.2 562.2,555.9 566.2,555.1 570.2,555.1 574.2,555.9 578.2,510.2 582.2,468.3 586.2,555.9 590.2,510.2 594.1,468.3 598.1,505.8 602.1,510.2 606.1,468.3 610.1,505.8 614.1,582.9 618.1,468.3 622.1,505.8 626.1,582.9 630.1,581.4 634.0,505.8 638.0,582.9 642.0,581.4 646.0,506.3 650.0,582.9 654.0,581.4 658.0,506.3 662.0,488.3 666.0,581.4 670.0,506.3 673.9,488.3 677.9,473.3 681.9,506.3 685.9,488.3 689.9,473.3 693.9,491.3 697.9,488.3 701.9,473.3 705.9,491.3 709.8,561.1 713.8,473.3 717.8,491.3 721.8,561.1 725.8,600.8 729.8,491.3 733.8,561.1 737.8,600.8 741.8,597.1 745.8,561.1 749.7,600.8 753.7,597.1 757.7,594.9 761.7,600.8 765.7,597.1 769.7,594.9 773.7,568.7 777.7,597.1 781.7,594.9 785.6,568.7 789.6,563.4 793.6,594.9 797.6,568.7 801.6,563.4 805.6,612.8 809.6,568.7 813.6,563.4 817.6,612.8 821.6,647.3 825.5,563.4 829.5,612.8 833.5,647.3 837.5,672.6 841.5,612.8 845.5,647.3 849.5,672.6 853.5,671.9 857.5,647.3 861.5,672.6 865.4,671.9 869.4,615.0 873.4,672.6 877.4,671.9 881.4,615.0 885.4,637.4 889.4,671.9 893.4,615.0 897.4,637.4 901.3,676.3 905.3,615.0 909.3,637.4 913.3,676.3 917.3,695.9 921.3,637.4 925.3,676.3 929.3,695.9 933.3,624.0 937.3,676.3 941.2,695.9 945.2,624.0 949.2,683.9 953.2,695.9 957.2,624.0 961.2,683.9 965.2,716.9 969.2,695.9 973.2,647.3 977.2,624.0 981.1,672.6 985.1,716.9 989.1,615.0 993.1,739.2 997.1,637.4 1001.1,671.9 1005.1,695.9 1009.1,772.2 1013.1,695.9 1017.0,615.0 1021.0,624.0 1025.0,672.6 1029.0,716.9 1033.0,683.9 1037.0,676.3 1041.0,695.9 1045.0,637.4 1049.0,739.2 1053.0,647.3 1056.9,772.2 1060.9,671.9 1064.9,695.9 1068.9,624.0 1072.9,772.2 1076.9,672.6 1080.9,637.4 1084.9,676.3 1088.9,671.9 1092.8,615.0 1096.8,716.9 1100.8,695.9 1104.8,647.3 1108.8,739.2 1112.8,772.2 1116.8,637.4 1120.8,716.9 1124.8,683.9 1128.8,676.3 1132.7,671.9 1136.7,624.0 1140.7,695.9 1144.7,615.0 1148.7,647.3 1152.7,739.2 1156.7,672.6 1160.7,637.4 1164.7,647.3 1168.7,772.2 1172.6,671.9 1176.6,672.6 1180.6,716.9 1184.6,615.0 1188.6,695.9 1192.6,683.9 1196.6,695.9 1200.6,676.3 1204.6,739.2 1208.5,671.9 1212.5,624.0 1216.5,772.2 1220.5,695.9 1224.5,683.9 1228.5,647.3 1232.5,739.2 1236.5,637.4 1240.5,615.0 1244.5,676.3 1248.4,716.9 1252.4,672.6 1256.4,671.9 1260.4,739.2 1264.4,683.9 1268.4,772.2 1272.4,647.3 1276.4,695.9 1280.4,672.6 1284.3,676.3 1288.3,637.4 1292.3,716.9 1296.3,695.9 1300.3,615.0 1304.3,739.2 1308.3,695.9 1312.3,615.0 1316.3,676.3 1320.3,716.9 1324.2,672.6 1328.2,676.3 1332.2,624.0 1336.2,647.3 1340.2,695.9 1344.2,772.2 1348.2,671.9 1352.2,695.9 1356.2,624.0 1360.2,772.2 1364.1,683.9 1368.1,739.2 1372.1,637.4 1376.1,672.6 1380.1,615.0 1384.1,676.3 1388.1,671.9 1392.1,647.3 1396.1,716.9 1400.0,716.9 1404.0,671.9 1408.0,615.0 1412.0,676.3 1416.0,672.6 1420.0,739.2 1424.0,772.2 1428.0,624.0 1432.0,647.3 1436.0,637.4 1439.9,695.9 1443.9,683.9 1447.9,647.3 1451.9,772.2 1455.9,695.9 1459.9,672.6 1463.9,683.9 1467.9,637.4 1471.9,671.9 1475.9,739.2 1479.8,624.0 1483.8,716.9 1487.8,695.9 1491.8,615.0 1495.8,647.3 1499.8,772.2 1503.8,683.9 1507.8,624.0 1511.8,637.4 1515.7,615.0 1519.7,672.6 1523.7,671.9 1527.7,695.9 1531.7,716.9 1535.7,676.3"/>
<polyline stroke="#bcbd22" points="183.2,903.0 187.2,925.4 191.2,891.1 195.2,951.4 199.2,1010.6 203.2,977.2 207.2,943.4 211.1,979.3 215.1,1016.6 219.1,991.3 223.1,965.7 227.1,988.3 231.1,985.3 235.1,985.3 239.1,989.7 243.1,959.7 247.1,955.3 251.0,962.9 255.0,937.4 259.0,954.0 263.0,967.3 267.0,940.4 271.0,930.0 275.0,927.7 279.0,930.0 283.0,948.0 286.9,906.0 290.9,907.4 294.9,909.0 298.9,874.5 302.9,841.5 306.9,892.4 310.9,944.0 314.9,904.4 318.9,862.9 322.9,861.8 326.8,839.9 330.8,818.0 334.8,771.2 338.8,774.2 342.8,761.1 346.8,745.4 350.8,729.3 354.8,747.3 358.8,755.8 362.8,745.7 366.7,758.1 370.7,739.2 374.7,717.3 378.7,707.4 382.7,697.5 386.7,687.6 390.7,696.4 394.7,679.5 398.7,661.6 402.6,643.6 406.6,639.2 410.6,657.7 414.6,619.9 418.6,586.9 422.6,589.9 426.6,590.4 430.6,569.9 434.6,554.2 438.6,569.4 442.5,539.7 446.5,510.4 450.5,483.5 454.5,499.8 458.5,505.8 462.5,465.7 466.5,456.7 470.5,436.7 474.5,405.1 478.5,388.3 482.4,386.7 486.4,372.9 490.4,367.6 494.4,358.8 498.4,333.3 502.4,287.4 506.4,282.6 510.4,294.5 514.4,275.7 518.3,279.6 522.3,269.7 526.3,221.3 530.3,190.9 534.3,188.3 538.3,193.2 542.3,170.4 546.3,108.6 550.3,99.6 554.3,114.6 558.2,96.6 562.2,55.9 566.2,51.9 570.2,51.9 574.2,55.9 578.2,96.6 582.2,114.6 586.2,55.9 590.2,96.6 594.1,114.6 598.1,99.6 602.1,96.6 606.1,114.6 610.1,99.6 614.1,108.6 618.1,114.6 622.1,99.6 626.1,108.6 630.1,170.4 634.0,99.6 638.0,108.6 642.0,170.4 646.0,193.2 650.0,108.6 654.0,170.4 658.0,193.2 662.0,188.3 666.0,170.4 670.0,193.2 673.9,188.3 677.9,190.9 681.9,193.2 685.9,188.3 689.9,190.9 693.9,221.3 697.9,188.3 701.9,190.9 705.9,221.3 709.8,269.7 713.8,190.9 717.8,221.3 721.8,269.7 725.8,279.6 729.8,221.3 733.8,269.7 737.8,279.6 741.8,275.7 745.8,269.7 749.7,279.6 753.7,275.7 757.7,294.5 761.7,279.6 765.7,275.7 769.7,294.5 773.7,282.6 777.7,275.7 781.7,294.5 785.6,282.6 789.6,287.4 793.6,294.5 797.6,282.6 801.6,287.4 805.6,333.3 809.6,282.6 813.6,287.4 817.6,333.3 821.6,358.8 825.5,287.4 829.5,333.3 833.5,358.8 837.5,367.6 841.5,333.3 845.5,358.8 849.5,367.6 853.5,372.9 857.5,358.8 861.5,367.6 865.4,372.9 869.4,386.7 873.4,367.6 877.4,372.9 881.4,386.7 885.4,388.3 889.4,372.9 893.4,386.7 897.4,388.3 901.3,405.1 905.3,386.7 909.3,388.3 913.3,405.1 917.3,436.7 921.3,388.3 925.3,405.1 929.3,436.7 933.3,456.7 937.3,405.1 941.2,436.7 945.2,456.7 949.2,465.7 953.2,436.7 957.2,456.7 961.2,465.7 965.2,505.8 969.2,436.7 973.2,358.8 977.2,456.7 981.1,367.6 985.1,505.8 989.1,386.7 993.1,499.8 997.1,388.3 1001.1,372.9 1005.1,436.7 1009.1,483.5 1013.1,436.7 1017.0,386.7 1021.0,456.7 1025.0,367.6 1029.0,505.8 1033.0,465.7 1037.0,405.1 1041.0,436.7 1045.0,388.3 1049.0,499.8 1053.0,358.8 1056.9,483.5 1060.9,372.9 1064.9,436.7 1068.9,456.7 1072.9,483.5 1076.9,367.6 1080.9,388.3 1084.9,405.1 1088.9,372.9 1092.8,386.7 1096.8,505.8 1100.8,436.7 1104.8,358.8 1108.8,499.8 1112.8,483.5 1116.8,388.3 1120.8,505.8 1124.8,465.7 1128.8,405.1 1132.7,372.9 1136.7,456.7 1140.7,436.7 1144.7,386.7 1148.7,358.8 1152.7,499.8 1156.7,367.6 1160.7,388.3 1164.7,358.8 1168.7,483.5 1172.6,372.9 1176.6,367.6 1180.6,505.8 1184.6,386.7 1188.6,436.7 1192.6,465.7 1196.6,436.7 1200.6,405.1 1204.6,499.8 1208.5,372.9 1212.5,456.7 1216.5,483.5 1220.5,436.7 1224.5,465.7 1228.5,358.8 1232.5,499.8 1236.5,388.3 1240.5,386.7 1244.5,405.1 1248.4,505.8 1252.4,367.6 1256.4,372.9 1260.4,499.8 1264.4,465.7 1268.4,483.5 1272.4,358.8 1276.4,436.7 1280.4,367.6 1284.3,405.1 1288.3,388.3 1292.3,505.8 1296.3,436.7 1300.3,386.7 1304.3,499.8 1308.3,436.7 1312.3,386.7 1316.3,405.1 1320.3,505.8 1324.2,367.6 1328.2,405.1 1332.2,456.7 1336.2,358.8 1340.2,436.7 1344.2,483.5 1348.2,372.9 1352.2,436.7 1356.2,456.7 1360.2,483.5 1364.1,465.7 1368.1,499.8 1372.1,388.3 1376.1,367.6 1380.1,386.7 1384.1,405.1 1388.1,372.9 1392.1,358.8 1396.1,505.8 1400.0,505.8 1404.0,372.9 1408.0,386.7 1412.0,405.1 1416.0,367.6 1420.0,499.8 1424.0,483.5 1428.0,456.7 1432.0,358.8 1436.0,388.3 1439.9,436.7 1443.9,465.7 1447.9,358.8 1451.9,483.5 1455.9,436.7 1459.9,367.6 1463.9,465.7 1467.9,388.3 1471.9,372.9 1475.9,499.8 1479.8,456.7 1483.8,505.8 1487.8,436.7 1491.8,386.7 1495.8,358.8 1499.8,483.5 1503.8,465.7 1507.8,456.7 1511.8,388.3 1515.7,386.7 1519.7,367.6 1523.7,372.9 1527.7,436.7 1531.7,505.8 1535.7,405.1"/>
</g>
<g stroke="#000" stroke-width="3.33" fill="none">
<line x1="143.32" y1="1111.4" x2="143.32" y2="1126.60"/>
<line x1="342.80" y1="1111.4" x2="342.80" y2="1126.60"/>
<line x1="542.28" y1="1111.4" x2="542.28" y2="1126.60"/>
<line x1="741.76" y1="1111.4" x2="741.76" y2="1126.60"/>
<line x1="941.24" y1="1111.4" x2="941.24" y2="1126.60"/>
<line x1="1140.72" y1="1111.4" x2="1140.72" y2="1126.60"/>
<line x1="1340.20" y1="1111.4" x2="1340.20" y2="1126.60"/>
<line x1="1539.68" y1="1111.4" x2="1539.68" y2="1126.60"/>
<line x1="115.5" y1="953.40" x2="100.30" y2="953.40"/>
<line x1="115.5" y1="722.90" x2="100.30" y2="722.90"/>
<line x1="115.5" y1="492.40" x2="100.30" y2="492.40"/>
<line x1="115.5" y1="261.90" x2="100.30" y2="261.90"/>
<line x1="115.5" y1="31.40" x2="100.30" y2="31.40"/>
<rect x="115.5" y="2.4" width="1488.10" height="1109.00" stroke-linejoin="miter"/>
</g>
<g font-size="41.67px" opacity="0.999">
<text x="143.32" y="1170.2" text-anchor="middle">1950</text>
<text x="342.80" y="1170.2" text-anchor="middle">2000</text>
<text x="542.28" y="1170.2" text-anchor="middle">2050</text>
<text x="741.76" y="1170.2" text-anchor="middle">2100</text>
<text x="941.24" y="1170.2" text-anchor="middle">2150</text>
<text x="1140.72" y="1170.2" text-anchor="middle">2200</text>
<text x="1340.20" y="1170.2" text-anchor="middle">2250</text>
<text x="1539.68" y="1170.2" text-anchor="middle">2300</text>
<text x="86.2" y="968.40" text-anchor="end">0</text>
<text x="86.2" y="737.90" text-anchor="end">1</text>
<text x="86.2" y="507.40" text-anchor="end">2</text>
<text x="86.2" y="276.90" text-anchor="end">3</text>
<text x="86.2" y="46.40" text-anchor="end">4</text>
<text x="859.55" y="1227.5" text-anchor="middle">year</text>
<text transform="translate(30.7 556.70) rotate(-90)" text-anchor="middle" letter-spacing="0.045">global mean temperature anomaly (<tspan font-size="29.17px" dy="-16.2">∘</tspan><tspan dy="16.2">C)</tspan></text>
</g>
<rect x="795.0" y="836.0" width="790.90" height="257.90" rx="6.7" ry="6.7" fill="#fff" fill-opacity="0.8" stroke="#ccc" stroke-opacity="0.8" stroke-width="4.17"/>
<g stroke-width="6.25" stroke-linecap="square" fill="none">
<line x1="808.00" y1="863.0" x2="874.67" y2="863.0" stroke="#1f77b4"/>
<line x1="808.00" y1="913.0" x2="874.67" y2="913.0" stroke="#ff7f0e"/>
<line x1="808.00" y1="962.9" x2="874.67" y2="962.9" stroke="#2ca02c"/>
<line x1="808.00" y1="1012.6" x2="874.67" y2="1012.6" stroke="#d62728"/>
<line x1="808.00" y1="1062.3000000000002" x2="874.67" y2="1062.3000000000002" stroke="#9467bd"/>
<line x1="1223.10" y1="863.0" x2="1289.77" y2="863.0" stroke="#8c564b"/>
<line x1="1223.10" y1="913.0" x2="1289.77" y2="913.0" stroke="#e377c2"/>
<line x1="1223.10" y1="962.9" x2="1289.77" y2="962.9" stroke="#7f7f7f"/>
<line x1="1223.10" y1="1012.6" x2="1289.77" y2="1012.6" stroke="#bcbd22"/>
</g><g font-size="33.33px" opacity="0.999">
<text x="903.3" y="874.80">CESM2</text>
<text x="903.3" y="924.80">CESM2-Leo</text>
<text x="903.3" y="974.70">CESM2-WACCM</text>
<text x="903.3" y="1024.40">CNRM-CM6-1</text>
<text x="903.3" y="1074.10">CNRM-ESM2-1</text>
<text x="1316.8" y="874.80">IPSL-CM6A-LR</text>
<text x="1316.8" y="924.80">MPI-ESM1-2-HR</text>
<text x="1316.8" y="974.70">NorESM2-MM</text>
<text x="1316.8" y="1024.40">UKESM1-0-LL</text>
</g>
</svg></body></html>
